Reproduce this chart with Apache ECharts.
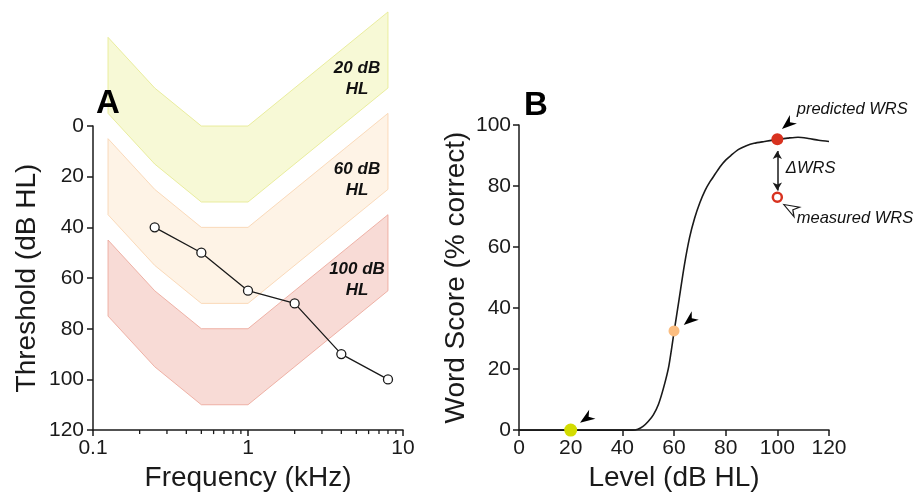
<!DOCTYPE html>
<html>
<head>
<meta charset="utf-8">
<script src="https://cdn.jsdelivr.net/npm/echarts@6/dist/echarts.min.js"></script>
<style>
  html, body { margin: 0; padding: 0; background: #fff; }
  #main { width: 918px; height: 497px; }
</style>
</head>
<body>
<div id="main"></div>
<script>
// panel A: audiogram
var bandFreqs = [0.125, 0.25, 0.5, 1, 8];
var band20Top = [-35, -15, 0, 0, -45];
var band20Bottom = [-5, 15, 30, 30, -15];
var band60Top = [5, 25, 40, 40, -5];
var band60Bottom = [35, 55, 70, 70, 25];
var band100Top = [45, 65, 80, 80, 35];
var band100Bottom = [75, 95, 110, 110, 65];
var bandNames = ['20 dB\nHL', '60 dB\nHL', '100 dB\nHL'];
var bandLabelFreq = [5.05, 5.05, 5.05];
var bandLabelDb = [-18.7, 21.1, 60.8];

var thresholdFreqs = [0.25, 0.5, 1, 2, 4, 8];
var thresholdDb = [40, 50, 65, 70, 90, 100];
var minorFreqs = [0.2, 0.3, 0.4, 0.5, 0.6, 0.7, 0.8, 0.9, 2, 3, 4, 5, 6, 7, 8, 9];

// panel B: word score function
var levels = [0, 10, 20, 30, 40, 44, 46, 48, 50, 52, 54, 56, 58, 60, 62, 64, 66, 68, 70, 72, 74, 76, 78, 80, 82, 85, 88, 91, 95, 100, 104, 108, 112, 116, 120];
var scores = [0, 0, 0, 0, 0, 0, 0.3, 1.2, 2.8, 5, 8.5, 14, 21, 32, 43, 54, 63, 69.5, 74.5, 78.5, 81.5, 84, 86.5, 88.5, 90, 92, 93.2, 94, 94.6, 95.3, 95.7, 96, 95.6, 95, 94.6];
var testLevels = [20, 60];
var testScores = [0, 32.5];
var predicted = [100, 95.3];
var measured = [100, 76.3];
var arrowX = [26, 66, 104, 105];
var arrowY = [3.8, 36, 100.3, 72.7];
var arrowAngle = [125, 130, 130, 60];
var noteText = ['predicted WRS', '\u0394WRS', 'measured WRS'];
var noteX = [107.5, 103.3, 107.5];
var noteY = [105.1, 85.7, 69.5];

var FONT = '"Liberation Sans", Arial, Helvetica, sans-serif';
var INK = '#1a1a1a';
var bandFill = ['rgba(240,244,180,0.55)', 'rgba(253,231,206,0.5)', 'rgba(240,175,165,0.45)'];
var bandEdge = ['#e4e98a', '#f9d2ac', '#eba294'];
var bandTops = [band20Top, band60Top, band100Top];
var bandBottoms = [band20Bottom, band60Bottom, band100Bottom];

var arrowPath = 'path://M0,0 L6,15 L0,10.5 L-6,15 Z';

function axisCommon() {
    return {
        axisLine: { onZero: false, lineStyle: { color: INK, width: 1.5 } },
        axisTick: { length: 6, lineStyle: { color: INK, width: 1.5 } },
        axisLabel: { color: INK, fontSize: 21, fontFamily: FONT },
        splitLine: { show: false },
        nameLocation: 'middle',
        nameTextStyle: { color: INK, fontSize: 28, fontFamily: FONT }
    };
}

var xA = Object.assign(axisCommon(), {
    type: 'log', logBase: 10, gridIndex: 0, min: 0.1, max: 10,
    name: 'Frequency (kHz)', nameGap: 32
});
xA.axisLabel.margin = 8;
var yA = Object.assign(axisCommon(), {
    type: 'value', gridIndex: 0, min: 0, max: 120, interval: 20, inverse: true,
    name: 'Threshold (dB HL)', nameGap: 52
});
yA.axisLabel.margin = 9;
var xB = Object.assign(axisCommon(), {
    type: 'value', gridIndex: 1, min: 0, max: 120, interval: 20,
    name: 'Level (dB HL)', nameGap: 32
});
xB.axisLabel.margin = 8;
var yB = Object.assign(axisCommon(), {
    type: 'value', gridIndex: 1, min: 0, max: 100, interval: 20,
    name: 'Word Score (% correct)', nameGap: 49
});
yB.axisLabel.margin = 8;

var myChart = echarts.init(document.getElementById('main'), null, { renderer: 'canvas' });
var option = {
    animation: false,
    textStyle: { fontFamily: FONT },
    grid: [
        { left: 93, top: 126, width: 310, height: 309 },
        { left: 519, top: 125, width: 310, height: 309 }
    ],
    xAxis: [xA, xB],
    yAxis: [yA, yB],
    graphic: [
        { type: 'text', z: 100, left: 96, top: 87, style: { text: 'A', font: 'bold 33px ' + FONT, fill: '#000' } },
        { type: 'text', z: 100, left: 524, top: 89, style: { text: 'B', font: 'bold 33px ' + FONT, fill: '#000' } }
    ],
    series: [
        {
            type: 'custom', xAxisIndex: 0, yAxisIndex: 0, clip: false, z: 1,
            data: bandNames.map(function (n, i) { return [bandFreqs[0], bandTops[i][0]]; }),
            renderItem: function (params, api) {
                var i = params.dataIndex;
                var pts = [];
                for (var k = 0; k < bandFreqs.length; k++) pts.push(api.coord([bandFreqs[k], bandTops[i][k]]));
                for (var k = bandFreqs.length - 1; k >= 0; k--) pts.push(api.coord([bandFreqs[k], bandBottoms[i][k]]));
                var c = api.coord([bandLabelFreq[i], bandLabelDb[i]]);
                return {
                    type: 'group',
                    children: [
                        { type: 'polygon', shape: { points: pts }, style: { fill: bandFill[i], stroke: bandEdge[i], lineWidth: 0.8 } },
                        { type: 'text', x: c[0], y: c[1], z2: 10, style: { text: bandNames[i], font: 'italic bold 17px ' + FONT, fill: '#111', align: 'center', verticalAlign: 'middle', lineHeight: 21 } }
                    ]
                };
            }
        },
        {
            type: 'custom', xAxisIndex: 0, yAxisIndex: 0, clip: false, z: 2,
            data: minorFreqs.map(function (f) { return [f, 120]; }),
            renderItem: function (params, api) {
                var p = api.coord([api.value(0), api.value(1)]);
                return { type: 'line', shape: { x1: p[0], y1: p[1], x2: p[0], y2: p[1] + 4 }, style: { stroke: INK, lineWidth: 1.3 } };
            }
        },
        {
            type: 'line', xAxisIndex: 0, yAxisIndex: 0, z: 5,
            data: thresholdFreqs.map(function (f, i) { return [f, thresholdDb[i]]; }),
            symbol: 'circle', symbolSize: 9,
            lineStyle: { color: INK, width: 1.3 },
            itemStyle: { color: '#fff', borderColor: INK, borderWidth: 1.3 }
        },
        {
            type: 'line', xAxisIndex: 1, yAxisIndex: 1, z: 3,
            data: levels.map(function (l, i) { return [l, scores[i]]; }),
            symbol: 'none', smooth: 0.25,
            lineStyle: { color: INK, width: 1.6 },
            markLine: {
                silent: true, symbol: ['arrow', 'arrow'], symbolSize: [7, 8],
                label: { show: false },
                lineStyle: { color: INK, width: 1.5, type: 'solid' },
                data: [[{ coord: [predicted[0], predicted[1] - 3.8] }, { coord: [measured[0], measured[1] + 2.2] }]]
            }
        },
        {
            type: 'scatter', xAxisIndex: 1, yAxisIndex: 1, z: 6, clip: false,
            data: [
                { value: [testLevels[0], testScores[0]], symbolSize: 13, itemStyle: { color: '#d3dc00', opacity: 1 } },
                { value: [testLevels[1], testScores[1]], symbolSize: 11, itemStyle: { color: '#fbbd80', opacity: 1 } },
                { value: predicted, symbolSize: 12, itemStyle: { color: '#d8321f', opacity: 1 } },
                { value: measured, symbolSize: 9, itemStyle: { color: '#fff', borderColor: '#d8321f', borderWidth: 2.5, opacity: 1 } }
            ]
        },
        {
            type: 'scatter', xAxisIndex: 1, yAxisIndex: 1, z: 6, clip: false,
            symbol: arrowPath, symbolSize: [11, 15],
            data: arrowX.map(function (x, i) {
                var hollow = i === 3;
                return {
                    value: [x, arrowY[i]], symbolRotate: arrowAngle[i],
                    itemStyle: hollow ? { color: '#fff', borderColor: INK, borderWidth: 1.2, opacity: 1 } : { color: '#000', opacity: 1 }
                };
            })
        },
        {
            type: 'custom', xAxisIndex: 1, yAxisIndex: 1, clip: false, z: 7,
            data: noteText.map(function (t, i) { return [noteX[i], noteY[i]]; }),
            renderItem: function (params, api) {
                var p = api.coord([api.value(0), api.value(1)]);
                return { type: 'text', x: p[0], y: p[1], style: { text: noteText[params.dataIndex], font: 'italic 16.5px ' + FONT, fill: '#111', align: 'left', verticalAlign: 'middle' } };
            }
        }
    ]
};
myChart.setOption(option);
</script>
</body>
</html>
